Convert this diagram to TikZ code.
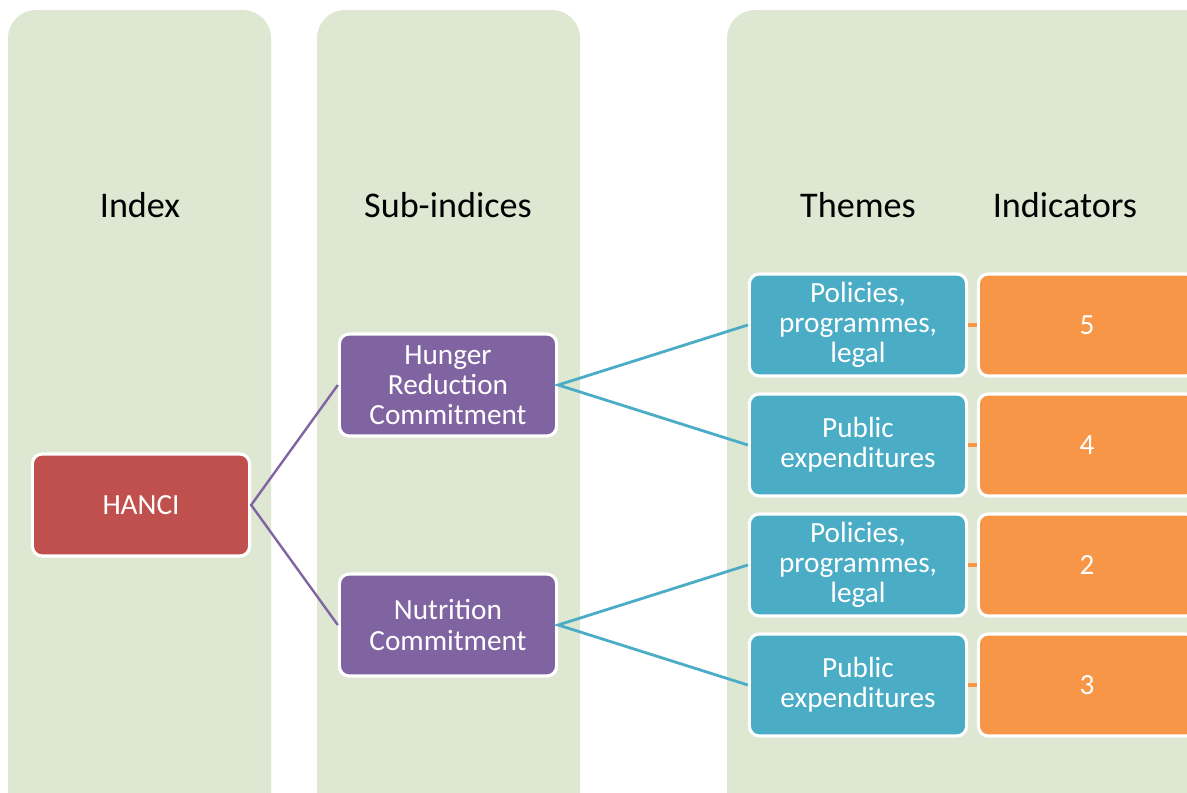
\documentclass[tikz,border=0pt]{standalone}
\usepackage{fontspec}
\setmainfont{Carlito}
\usetikzlibrary{positioning}

\definecolor{panel}{HTML}{DDE7D1}
\definecolor{hancired}{HTML}{C0504D}
\definecolor{subpurple}{HTML}{8064A2}
\definecolor{themeblue}{HTML}{4BACC6}
\definecolor{indorange}{HTML}{F79646}

\begin{document}
\begin{tikzpicture}[x=0.025cm,y=-0.025cm,
  box/.style={draw=white,line width=2.2pt,rounded corners=7pt,
    minimum width=5.43cm,minimum height=2.55cm,align=center,text=white,
    font=\fontsize{20.8}{21.5}\selectfont},
  head/.style={font=\fontsize{25.7}{30}\selectfont}]
\useasboundingbox (0,0) rectangle (1187,793);
\clip (0,0) rectangle (1187,793);

% columns
\fill[panel,rounded corners=20pt] (8,10) rectangle (271,822);
\fill[panel,rounded corners=20pt] (317,10) rectangle (580,822);
\fill[panel,rounded corners=20pt] (727,10) rectangle (1240,822);

\node[head] (hIndex) at (140,205) {Index};
\node[head] (hSub) at (448,205) {Sub-indices};
\node[head] (hThemes) at (858,205) {Themes};
\node[head] (hInd) at (1065,205) {Indicators};

\node[box,fill=hancired] (hanci) at (141,505) {HANCI};
\node[box,fill=subpurple] (hunger) at (448,385) {Hunger\\Reduction\\Commitment};
\node[box,fill=subpurple] (nutr) at (448,625) {Nutrition\\Commitment};

\node[box,fill=themeblue] (t1) at (858,325) {Policies,\\programmes,\\legal};
\node[box,fill=themeblue] (t2) at (858,445) {Public\\expenditures};
\node[box,fill=themeblue] (t3) at (858,565) {Policies,\\programmes,\\legal};
\node[box,fill=themeblue] (t4) at (858,685) {Public\\expenditures};

\node[box,fill=indorange] (i1) at (1087,325) {5};
\node[box,fill=indorange] (i2) at (1087,445) {4};
\node[box,fill=indorange] (i3) at (1087,565) {2};
\node[box,fill=indorange] (i4) at (1087,685) {3};

\draw[subpurple,line width=1.7pt] (hunger.west) -- (hanci.east) -- (nutr.west);
\draw[themeblue,line width=2pt] (t1.west) -- (hunger.east) -- (t2.west);
\draw[themeblue,line width=2pt] (t3.west) -- (nutr.east) -- (t4.west);

\foreach \k in {1,...,4}
  \draw[indorange,line width=2.5pt] (t\k.east) -- (i\k.west);

\end{tikzpicture}
\end{document}
